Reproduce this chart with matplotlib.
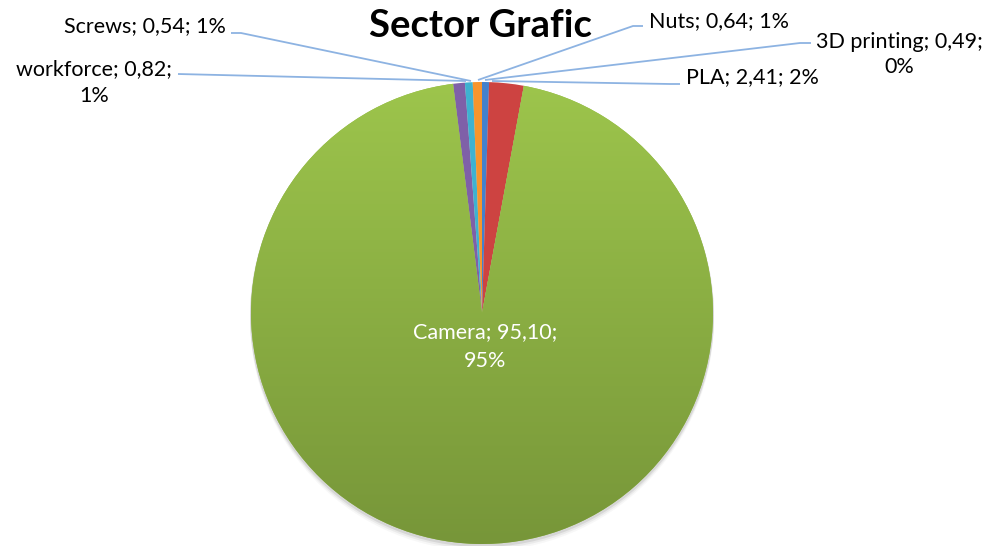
import matplotlib
matplotlib.use("Agg")
import matplotlib.pyplot as plt
import numpy as np
from matplotlib.patches import Circle

# ---- data ----
categories = ["3D printing", "PLA", "Camera", "workforce", "Screws", "Nuts"]
values = [0.49, 2.41, 95.10, 0.82, 0.54, 0.64]
title = "Sector Grafic"

colors = ["#4481CC", "#CD4341", "#94BC48", "#7F60A8", "#3EB2D0", "#F7952C"]

W, H = 996, 546
fig = plt.figure(figsize=(W / 100, H / 100), dpi=100)
ax = fig.add_axes([0, 0, 1, 1])
ax.set_xlim(0, W)
ax.set_ylim(0, H)
ax.set_aspect("equal")
ax.axis("off")

def Y(y):  # pixel row -> data y
    return H - y

cx, cy, R = 482, 313, 231
FONT = "Lato"

# shadow
for off, a in [(6, 0.06), (4, 0.10), (2, 0.18)]:
    ax.add_patch(Circle((cx, Y(cy + off)), R + 1, color="#808080", alpha=a, lw=0, zorder=1))

wedges, _ = ax.pie(values, colors=colors, startangle=90, counterclock=False,
                   center=(cx, Y(cy)), radius=R, frame=True,
                   wedgeprops=dict(linewidth=0, zorder=2))
ax.set_xlim(0, W)
ax.set_ylim(0, H)
ax.axis("off")

# gradient on green wedge
top = np.array([157, 197, 76]) / 255
bot = np.array([119, 150, 57]) / 255
t = np.linspace(0, 1, 256)[:, None]
grad = (top[None, :] * (1 - t) + bot[None, :] * t)[:, None, :]
grad = np.repeat(grad, 2, axis=1)
cam = categories.index("Camera")
im = ax.imshow(grad, extent=(cx - R, cx + R, Y(cy + R), Y(cy - R)), origin="upper",
               aspect="auto", zorder=2.5, interpolation="bilinear")
im.set_clip_path(wedges[cam])

total = sum(values)
def fmt(v):
    return f"{v:.2f}".replace(".", ",")
def pct(v):
    return f"{int(round(v / total * 100))}%"

lc = "#8DB3E2"
fs = 15.5

def line(pts):
    xs = [p[0] for p in pts]
    ys = [Y(p[1]) for p in pts]
    ax.plot(xs, ys, color=lc, lw=1.3, zorder=3, solid_capstyle="butt")

def txt(x, y, s, ha="left", color="black", size=fs, weight="normal"):
    ax.text(x, Y(y), s, ha=ha, va="baseline", color=color, fontsize=size,
            fontweight=weight, family=FONT, zorder=5)

# title
ax.text(480, Y(37), title, ha="center", va="baseline", fontsize=27.5, fontweight="bold",
        family=FONT, zorder=5)

i = categories.index("Screws")
txt(226, 32, f"{categories[i]}; {fmt(values[i])}; {pct(values[i])}", ha="right")
line([(471, 81), (241, 33), (231, 33)])

i = categories.index("workforce")
txt(94, 75, f"{categories[i]}; {fmt(values[i])};", ha="center")
txt(94, 102, pct(values[i]), ha="center")
line([(466, 81), (178, 74)])

i = categories.index("Nuts")
txt(649, 27, f"{categories[i]}; {fmt(values[i])}; {pct(values[i])}")
line([(478, 80), (633, 26), (643, 26)])

i = categories.index("3D printing")
txt(899, 48, f"{categories[i]}; {fmt(values[i])};", ha="center")
txt(899, 73, pct(values[i]), ha="center")
line([(485, 80), (800, 43), (811, 43)])

i = categories.index("PLA")
txt(686, 83, f"{categories[i]}; {fmt(values[i])}; {pct(values[i])}")
line([(492, 81), (670, 84), (680, 84)])

i = categories.index("Camera")
txt(485, 338, f"{categories[i]}; {fmt(values[i])};", ha="center", color="white")
txt(485, 367, pct(values[i]), ha="center", color="white")

fig.savefig("out.png", dpi=100)
